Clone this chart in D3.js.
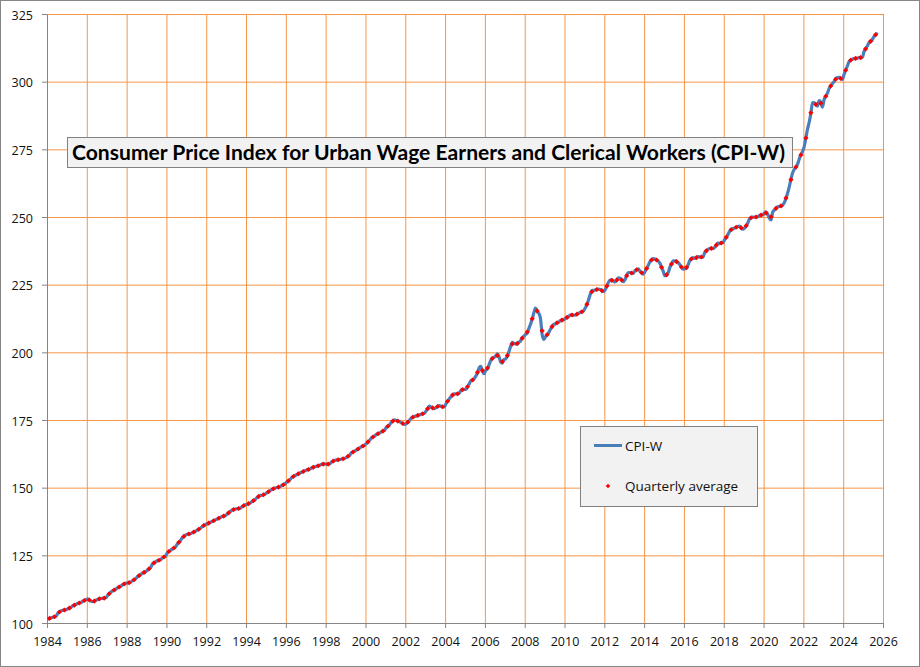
<!DOCTYPE html>
<html>
<head>
<meta charset="utf-8">
<script src="https://cdn.jsdelivr.net/npm/d3@7"></script>
<style>
  body { margin: 0; background: #fff; }
  svg { display: block; }
</style>
</head>
<body>
<svg id="chart" width="920" height="667"></svg>
<script>
// monthly CPI-W values, Jan 1984 .. Sep 2025
const startYear = 1984;
const cpiW = [
  101.5,101.7,101.9,102.1,102.3,102.5,103.6,104.1,104.5,104.7,104.8,104.9, // 1984
  105.2,105.5,105.8,106.3,106.6,106.9,107.2,107.4,107.6,108.0,108.3,108.6, // 1985
  108.9,108.5,108.1,107.9,108.0,108.4,108.7,108.9,109.1,109.1,109.2,109.3, // 1986
  110.2,110.8,111.4,111.9,112.2,112.5,113.0,113.3,113.6,114.1,114.4,114.7, // 1987
  114.7,114.9,115.1,115.6,116.0,116.4,117.1,117.5,117.9,118.4,118.7,119.0, // 1988
  119.5,120.0,120.5,121.7,122.3,122.6,123.0,123.2,123.4,124.0,124.4,124.8, // 1989
  125.9,126.4,126.9,127.3,127.7,128.1,129.1,129.8,130.5,131.5,132.0,132.5, // 1990
  132.8,132.9,133.0,133.3,133.6,133.9,134.3,134.6,135.0,135.6,136.0,136.4, // 1991
  136.6,136.9,137.2,137.5,137.8,138.1,138.4,138.7,139.0,139.3,139.5,139.7, // 1992
  140.2,140.7,141.2,141.7,141.9,142.1,142.2,142.3,142.4,142.9,143.3,143.7, // 1993
  143.8,144.1,144.4,144.8,145.2,145.6,146.3,146.7,147.1,147.2,147.4,147.6, // 1994
  148.1,148.5,148.9,149.3,149.6,149.9,150.0,150.2,150.4,150.8,151.1,151.4, // 1995
  152.0,152.5,153.0,153.7,154.1,154.5,154.8,155.1,155.4,155.7,156.0,156.3, // 1996
  156.5,156.7,156.9,157.3,157.5,157.7,157.9,158.1,158.3,158.6,158.7,158.8, // 1997
  158.6,158.7,158.8,159.5,159.8,160.1,160.2,160.3,160.4,160.6,160.7,160.8, // 1998
  161.2,161.6,162.0,162.9,163.2,163.5,163.9,164.3,164.7,165.1,165.4,165.7, // 1999
  166.3,166.9,167.5,168.3,168.7,169.1,169.6,169.9,170.2,170.6,170.9,171.2, // 2000
  172.2,172.7,173.2,174.1,174.6,175.1,174.8,174.6,174.4,174.0,173.7,173.4, // 2001
  173.6,174.2,174.8,175.7,176.0,176.3,176.5,176.7,176.9,177.1,177.3,177.5, // 2002
  178.3,179.2,180.1,179.8,179.4,179.2,179.6,180.0,180.3,180.1,179.8,179.8, // 2003
  181.0,181.9,182.8,183.6,184.3,184.7,184.6,184.6,184.9,185.9,186.4,186.3, // 2004
  186.3,187.3,188.3,189.5,189.7,190.2,191.2,192.3,194.3,194.8,193.0,192.1, // 2005
  193.4,193.8,195.4,197.0,197.9,198.2,198.6,199.4,198.4,196.5,196.0,197.3, // 2006
  197.6,198.5,200.3,202.2,203.7,203.4,203.1,203.0,203.8,204.2,205.5,205.9, // 2007
  206.6,207.1,208.8,210.4,212.2,214.6,216.3,215.2,214.4,212.6,206.6,204.8, // 2008
  205.7,206.5,207.3,208.5,209.6,210.4,210.5,211.0,211.2,211.7,212.0,212.0, // 2009
  212.6,212.8,213.3,213.8,213.9,213.7,213.8,214.1,214.4,214.7,215.0,215.3, // 2010
  216.4,217.6,219.4,221.4,222.8,222.9,223.0,223.2,223.4,223.2,222.8,222.4, // 2011
  223.2,224.4,225.9,226.7,226.8,226.3,226.0,226.6,227.5,227.4,226.6,226.1, // 2012
  226.9,228.5,229.5,229.5,229.2,229.2,230.2,230.5,230.8,229.9,229.4,228.9, // 2013
  229.8,231.0,232.2,233.5,234.2,234.6,234.5,234.1,233.7,232.9,231.4,229.9, // 2014
  228.3,228.4,229.4,231.4,232.6,233.8,233.8,233.6,233.1,232.4,231.4,230.7, // 2015
  230.9,231.0,232.3,233.9,234.6,235.0,234.7,234.9,235.4,235.2,235.2,235.2, // 2016
  236.9,237.5,238.1,238.4,238.5,238.3,238.8,239.6,240.4,240.2,240.5,240.5, // 2017
  241.6,242.4,243.5,244.7,245.5,245.7,245.9,246.2,246.5,246.6,245.9,245.5, // 2018
  245.9,246.7,247.8,249.3,249.8,250.0,249.9,250.0,250.1,250.5,250.8,250.8, // 2019
  251.4,251.9,251.0,249.6,248.9,251.8,252.6,253.2,253.8,253.9,254.0,254.4, // 2020
  255.3,256.9,258.8,261.2,263.9,266.3,267.6,268.4,269.5,271.4,273.1,274.2, // 2021
  276.0,279.1,282.5,285.0,288.2,292.3,292.2,291.6,291.0,293.0,292.4,290.6, // 2022
  293.4,294.6,295.8,297.4,298.5,299.3,300.0,301.2,301.5,301.6,301.2,300.8, // 2023
  302.6,304.3,305.7,307.4,308.0,308.3,308.5,308.6,308.7,308.9,308.9,308.9, // 2024
  311.0,312.2,313.1,314.3,314.9,315.5,316.6,317.2,318.2                    // 2025
];

const xTickYears = [1984, 1986, 1988, 1990, 1992, 1994, 1996, 1998, 2000, 2002, 2004,
  2006, 2008, 2010, 2012, 2014, 2016, 2018, 2020, 2022, 2024, 2026];
const yTickValues = [100, 125, 150, 175, 200, 225, 250, 275, 300, 325];

const titleText = "Consumer Price Index for Urban Wage Earners and Clerical Workers (CPI-W)";
const seriesNames = ["CPI-W", "Quarterly average"];

const width = 920;
const height = 667;
const gridColor = "#f79646";
const axisColor = "#868686";
const lineColor = "#4a7ebb";
const dotColor = "#ff0000";
const tickFont = "'Open Sans', sans-serif";

const monthly = cpiW.map((v, i) => ({t: startYear + (i + 0.5) / 12, v: v}));
const quarterly = d3.range(Math.ceil(cpiW.length / 3)).map(q => ({
  t: startYear + q * 0.25 + 0.125,
  v: d3.mean(cpiW.slice(q * 3, q * 3 + 3))
}));

const x = d3.scaleLinear()
  .domain(d3.extent(xTickYears))
  .range([47, 883]);
const y = d3.scaleLinear()
  .domain(d3.extent(yTickValues))
  .range([623, 14]);

const svg = d3.select("#chart");

svg.append("rect")
  .attr("x", 0.5).attr("y", 0.5)
  .attr("width", width - 1).attr("height", height - 1)
  .attr("fill", "#fff")
  .attr("stroke", axisColor);

const plotH = y.range()[0] - y.range()[1];
const plotW = x.range()[1] - x.range()[0];

// orange gridlines
svg.append("g")
  .attr("transform", `translate(0,${y.range()[0]})`)
  .call(d3.axisBottom(x).tickValues(xTickYears).tickSize(-plotH).tickFormat(""))
  .call(g => g.select(".domain").remove())
  .call(g => g.selectAll("line").attr("stroke", gridColor));

svg.append("g")
  .attr("transform", `translate(${x.range()[0]},0)`)
  .call(d3.axisLeft(y).tickValues(yTickValues).tickSize(-plotW).tickFormat(""))
  .call(g => g.select(".domain").remove())
  .call(g => g.selectAll("line").attr("stroke", gridColor));

// axes
svg.append("g")
  .attr("transform", `translate(0,${y.range()[0]})`)
  .call(d3.axisBottom(x).tickValues(xTickYears).tickFormat(d3.format("d"))
    .tickSize(5).tickSizeOuter(0).tickPadding(9))
  .call(g => g.select(".domain").attr("stroke", axisColor))
  .call(g => g.selectAll(".tick line").attr("stroke", axisColor))
  .call(g => g.selectAll("text")
    .attr("font-family", tickFont).attr("font-size", 12.5).attr("fill", "#111"));

svg.append("g")
  .attr("transform", `translate(${x.range()[0]},0)`)
  .call(d3.axisLeft(y).tickValues(yTickValues)
    .tickSize(5).tickSizeOuter(0).tickPadding(9))
  .call(g => g.select(".domain").attr("stroke", axisColor))
  .call(g => g.selectAll(".tick line").attr("stroke", axisColor))
  .call(g => g.selectAll("text")
    .attr("font-family", tickFont).attr("font-size", 12.5).attr("fill", "#111")
    .attr("dy", "0.4em"));

// CPI-W line
const line = d3.line()
  .x(d => x(d.t))
  .y(d => y(d.v))
  .curve(d3.curveMonotoneX);

svg.append("path")
  .datum(monthly)
  .attr("fill", "none")
  .attr("stroke", lineColor)
  .attr("stroke-width", 3.2)
  .attr("stroke-linejoin", "round")
  .attr("d", line);

// quarterly markers
const marker = d3.symbol(d3.symbolSquare, 13);
svg.append("g")
  .selectAll("path")
  .data(quarterly)
  .join("path")
  .attr("transform", d => `translate(${x(d.t)},${y(d.v)}) rotate(45)`)
  .attr("fill", dotColor)
  .attr("d", marker);

// title box
svg.append("rect")
  .attr("x", 67.5).attr("y", 137.5)
  .attr("width", 725).attr("height", 30)
  .attr("fill", "#f2f2f2")
  .attr("stroke", "#808080");

svg.append("text")
  .attr("x", 72).attr("y", 160)
  .attr("font-family", "Lato, sans-serif")
  .attr("font-weight", "bold")
  .attr("font-size", 20)
  .attr("fill", "#000")
  .attr("textLength", 713)
  .attr("lengthAdjust", "spacingAndGlyphs")
  .text(titleText);

// legend
const legend = svg.append("g");
legend.append("rect")
  .attr("x", 580.5).attr("y", 426.5)
  .attr("width", 177).attr("height", 80)
  .attr("fill", "#f2f2f2")
  .attr("stroke", "#808080");

legend.append("line")
  .attr("x1", 594).attr("x2", 622)
  .attr("y1", 445.5).attr("y2", 445.5)
  .attr("stroke", lineColor)
  .attr("stroke-width", 3);

legend.append("path")
  .attr("transform", "translate(608,486) rotate(45)")
  .attr("fill", dotColor)
  .attr("d", d3.symbol(d3.symbolSquare, 10));

legend.selectAll("text")
  .data(seriesNames)
  .join("text")
  .attr("x", 625)
  .attr("y", (d, i) => i === 0 ? 450.5 : 491)
  .attr("font-family", tickFont)
  .attr("font-size", 13.5)
  .attr("fill", "#111")
  .text(d => d);
</script>
</body>
</html>
